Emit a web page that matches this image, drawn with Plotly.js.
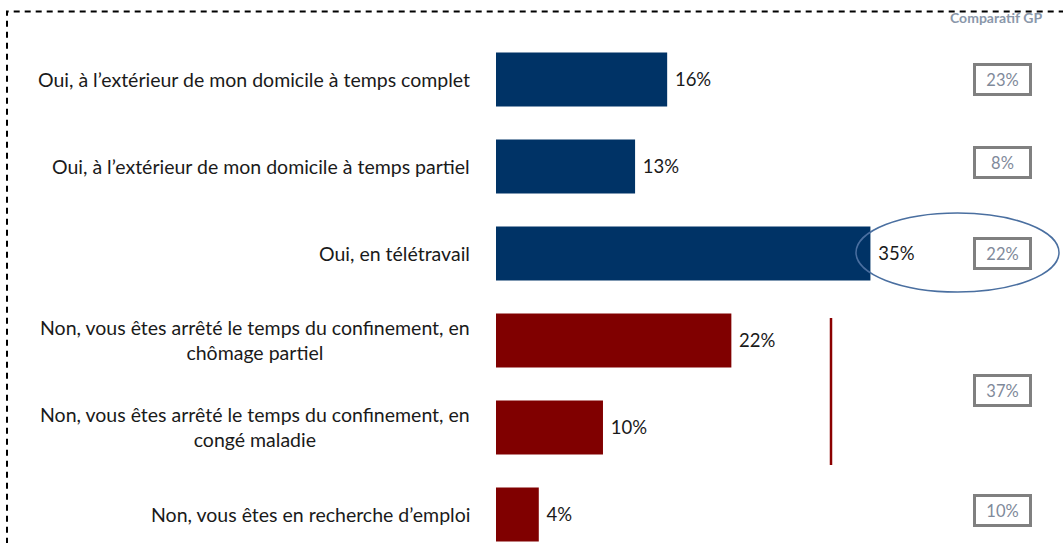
<!DOCTYPE html>
<html><head><meta charset="utf-8">
<script src="https://cdn.plot.ly/plotly-3.0.1.min.js"></script>
<style>html,body{margin:0;padding:0;background:#fff}</style>
</head><body><div id="chart" style="width:1063px;height:543px"></div>
<script>
const categories = [
  "Oui, à l’extérieur de mon domicile à temps complet",
  "Oui, à l’extérieur de mon domicile à temps partiel",
  "Oui, en télétravail",
  "Non, vous êtes arrêté le temps du confinement, en<br>chômage partiel",
  "Non, vous êtes arrêté le temps du confinement, en<br>congé maladie",
  "Non, vous êtes en recherche d’emploi"
];
const values = [16, 13, 35, 22, 10, 4];
const groups = ["Oui", "Oui", "Oui", "Non", "Non", "Non"];
const gpValues = [23, 8, 22, 37, 10];
const gpTitle = "Comparatif GP";

const groupColors = {Oui: "#003366", Non: "#800000"};
const gpY = [0, 0.95, 2, 3.57, 4.95];
const FONT = "Lato, 'Open Sans', sans-serif";

const trace = {
  type: "bar", orientation: "h",
  y: categories, x: values,
  marker: {color: groups.map(g => groupColors[g])},
  width: 0.62,
  text: values.map(v => "\u00a0" + v + "%"),
  textposition: "outside",
  textfont: {family: FONT, size: 18.5, color: "#1a1a1a"},
  cliponaxis: false,
  hoverinfo: "skip"
};

const annotations = [];
categories.forEach(c => annotations.push({
  xref: "paper", yref: "y", x: 0, y: c, xshift: -24,
  xanchor: "right", yanchor: "middle", align: "center",
  text: c, showarrow: false,
  font: {family: FONT, size: 19.5, color: "#1a1a1a"}
}));
gpValues.forEach((v, i) => annotations.push({
  xref: "paper", yref: "y", x: (1002 - 496) / 567, y: gpY[i],
  xanchor: "center", yanchor: "middle",
  text: v + "%", showarrow: false,
  width: 53, height: 27, borderpad: 0,
  bordercolor: "#808080", borderwidth: 3, bgcolor: "#fff",
  font: {family: FONT, size: 16.5, color: "#7f8a9a"}
}));
annotations.push({
  xref: "paper", yref: "paper", x: (1044 - 496) / 567, y: 1 + (36 - 17) / 507,
  xanchor: "right", yanchor: "middle", text: "<b>" + gpTitle + "</b>",
  showarrow: false, font: {family: FONT, size: 14, color: "#8a97aa"}
});

const layout = {
  width: 1063, height: 543,
  margin: {l: 496, r: 0, t: 36, b: 0, pad: 0},
  paper_bgcolor: "#fff", plot_bgcolor: "#fff",
  showlegend: false,
  xaxis: {range: [0, 53], visible: false, fixedrange: true},
  yaxis: {type: "category", range: [5.328, -0.5], showticklabels: false,
          showgrid: false, zeroline: false, showline: false, ticks: "", fixedrange: true},
  annotations: annotations,
  shapes: [
    {type: "rect", xref: "paper", yref: "paper",
     x0: (7 - 496) / 567, x1: 1.2, y0: -0.2, y1: 1 + (36 - 11.5) / 507,
     line: {color: "#000", width: 2, dash: "6px,5px"}, fillcolor: "rgba(0,0,0,0)", layer: "below"},
    {type: "circle", xref: "paper", yref: "paper",
     x0: (856 - 496) / 567, x1: (1059 - 496) / 567,
     y0: 1 - (292 - 36) / 507, y1: 1 - (213 - 36) / 507,
     line: {color: "#4a6fa0", width: 1.5}, fillcolor: "rgba(0,0,0,0)", layer: "above"},
    {type: "line", xref: "paper", yref: "paper",
     x0: (831 - 496) / 567, x1: (831 - 496) / 567,
     y0: 1 - (465 - 36) / 507, y1: 1 - (318 - 36) / 507,
     line: {color: "#8b0000", width: 2.5}}
  ]
};

Plotly.newPlot("chart", [trace], layout, {displayModeBar: false, staticPlot: true});
</script></body></html>
